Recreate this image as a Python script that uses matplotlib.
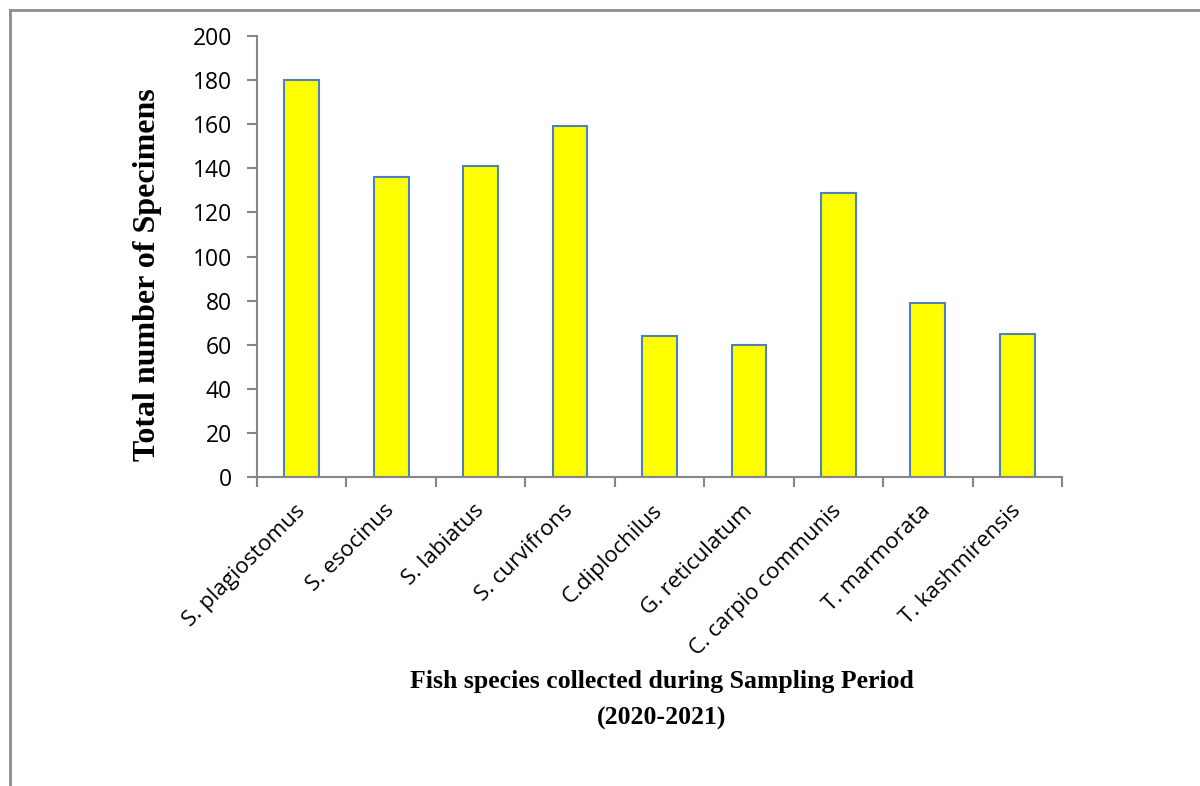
import matplotlib
matplotlib.use("Agg")
import matplotlib.pyplot as plt
from matplotlib.lines import Line2D

species = ['S. plagiostomus', 'S. esocinus', 'S. labiatus', 'S. curvifrons',
           'C.diplochilus', 'G. reticulatum', 'C. carpio communis',
           'T. marmorata', 'T. kashmirensis']
counts = [180, 136, 141, 159, 64, 60, 129, 79, 65]
yticks = [0, 20, 40, 60, 80, 100, 120, 140, 160, 180, 200]

grey = '#868686'

fig = plt.figure(figsize=(12, 7.86), dpi=100)
ax = fig.add_axes([257/1200, 1 - 477/786, (1062 - 257)/1200, 441/786])

x = range(len(species))
ax.bar(x, counts, width=0.39, color='#FFFF00', edgecolor='#4F81BD', linewidth=1.5)

ax.set_xlim(-0.5, len(species) - 0.5)
ax.set_ylim(0, 200)
ax.set_yticks(yticks)
ax.set_yticklabels([str(v) for v in yticks], fontsize=16.5, family='Open Sans')

# category boundary ticks like excel
ax.set_xticks([i - 0.5 for i in range(len(species) + 1)])
ax.set_xticklabels([])
ax.set_xticks(list(x), minor=True)
ax.set_xticklabels(species, minor=True, rotation=45, ha='right', va='center',
                   rotation_mode='anchor', fontsize=16, family='Open Sans')
ax.tick_params(axis='x', which='minor', length=0, pad=22)
ax.tick_params(axis='x', which='major', length=7, color=grey, width=1.5)
ax.tick_params(axis='y', length=7, color=grey, width=1.5, pad=11)

for s in ['top', 'right']:
    ax.spines[s].set_visible(False)
for s in ['left', 'bottom']:
    ax.spines[s].set_color(grey)
    ax.spines[s].set_linewidth(1.5)

ax.set_ylabel('Total number of Specimens', fontsize=23, fontweight='bold',
              family='Liberation Serif')
ax.yaxis.set_label_coords((162 - 257)/805, (477 - 275)/441)
fig.text(662/1200, 1 - 700/786, 'Fish species collected during Sampling Period\n(2020-2021)',
         ha='center', va='center', fontsize=18.5, fontweight='bold',
         family='Liberation Serif', linespacing=1.7)

# outer frame lines (left and top)
fig.add_artist(Line2D([10/1200, 10/1200], [0, 1 - 10/786], color='#8c8c8c', lw=2,
                      transform=fig.transFigure))
fig.add_artist(Line2D([10/1200, 1], [1 - 10/786, 1 - 10/786], color='#8c8c8c', lw=2,
                      transform=fig.transFigure))

fig.savefig('out.png', dpi=100, facecolor='white')
